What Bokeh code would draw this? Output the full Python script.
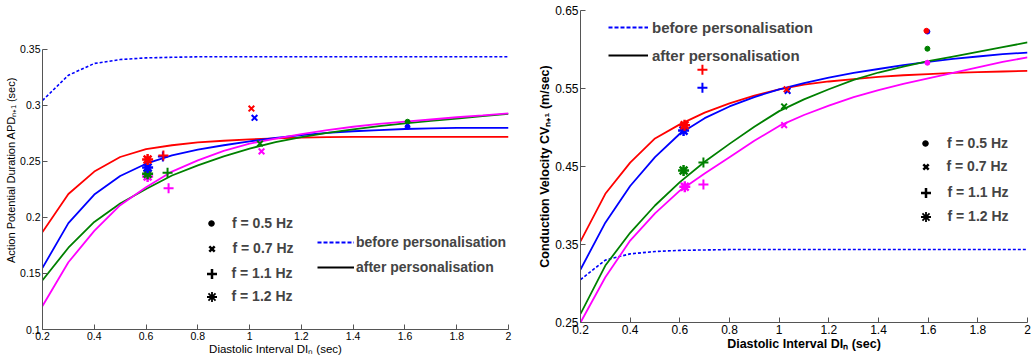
import math
from bokeh.plotting import figure
from bokeh.models import Range1d, FixedTicker, Legend, LegendItem
from bokeh.layouts import row, column
from bokeh.embed import file_html
from bokeh.resources import INLINE

nan = float("nan")

# ---------------- data ----------------
di = [0.2, 0.3, 0.4, 0.5, 0.6, 0.7, 0.8, 0.9, 1.0, 1.1, 1.2, 1.3, 1.4, 1.5, 1.6, 1.7, 1.8, 1.9, 2.0]

apd_before = [0.3045, 0.327, 0.3375, 0.341, 0.3425, 0.343, 0.3435, 0.3435, 0.3435, 0.3435,
              0.3435, 0.3435, 0.3435, 0.3435, 0.3435, 0.3435, 0.3435, 0.3435, 0.3435]
apd_red = [0.187, 0.221, 0.241, 0.254, 0.261, 0.2645, 0.267, 0.2685, 0.2698, 0.2707,
           0.2713, 0.2717, 0.272, 0.272, 0.272, 0.272, 0.272, 0.272, 0.272]
apd_blue = [0.155, 0.195, 0.2205, 0.237, 0.248, 0.2555, 0.2605, 0.2645, 0.268, 0.271,
            0.2735, 0.2755, 0.277, 0.278, 0.279, 0.2795, 0.28, 0.28, 0.28]
apd_green = [0.144, 0.173, 0.196, 0.2125, 0.2255, 0.2375, 0.2465, 0.2545, 0.2615, 0.2672,
             0.2718, 0.2755, 0.2787, 0.2815, 0.284, 0.2862, 0.2883, 0.2905, 0.2925]
apd_magenta = [0.121, 0.160, 0.188, 0.211, 0.227, 0.241, 0.251, 0.2595, 0.266, 0.2705,
               0.2745, 0.278, 0.281, 0.2835, 0.2855, 0.2875, 0.2895, 0.2912, 0.293]

cv_before = [0.305, 0.330, 0.338, 0.341, 0.3425, 0.343, 0.3435, 0.3435, 0.3435, 0.3435,
             0.3435, 0.3435, 0.3435, 0.3435, 0.3435, 0.3435, 0.3435, 0.3435, 0.3435]
cv_red = [0.354, 0.415, 0.455, 0.486, 0.504, 0.519, 0.531, 0.541, 0.549, 0.555,
          0.559, 0.562, 0.565, 0.567, 0.5685, 0.570, 0.571, 0.5718, 0.5725]
cv_blue = [0.318, 0.378, 0.425, 0.462, 0.492, 0.512, 0.527, 0.539, 0.549, 0.557,
           0.564, 0.570, 0.575, 0.580, 0.584, 0.588, 0.591, 0.594, 0.596]
cv_green = [0.261, 0.323, 0.365, 0.400, 0.430, 0.456, 0.479, 0.501, 0.521, 0.536,
            0.549, 0.561, 0.5705, 0.578, 0.585, 0.591, 0.597, 0.603, 0.609]
cv_magenta = [0.250, 0.308, 0.355, 0.390, 0.419, 0.441, 0.462, 0.483, 0.502, 0.516,
              0.528, 0.539, 0.548, 0.556, 0.563, 0.570, 0.577, 0.584, 0.590]

freq_labels = ["f = 0.5 Hz", "f = 0.7 Hz", "f = 1.1 Hz", "f = 1.2 Hz"]
line_labels = ["before personalisation", "after personalisation"]
series_names = ["red", "blue", "green", "magenta"]

# measured points, one value per frequency (0.5, 0.7, 1.1, 1.2 Hz); nan = not shown
apd_pts_di = {
    "red":     [nan, 1.007, 0.667, 0.606],
    "blue":    [1.61, 1.019, 0.665, 0.606],
    "green":   [1.61, 1.040, 0.683, 0.606],
    "magenta": [nan, 1.046, 0.687, 0.606],
}
apd_pts_val = {
    "red":     [nan, 0.2973, 0.2554, 0.2518],
    "blue":    [0.281, 0.289, 0.2545, 0.2446],
    "green":   [0.2855, 0.266, 0.240, 0.239],
    "magenta": [nan, 0.259, 0.226, 0.2366],
}
cv_pts_di = {
    "red":     [1.593, 1.030, 0.691, 0.619],
    "blue":    [1.597, 1.034, 0.691, 0.615],
    "green":   [1.597, 1.020, 0.695, 0.615],
    "magenta": [1.597, 1.020, 0.695, 0.620],
}
cv_pts_val = {
    "red":     [0.624, 0.549, 0.574, 0.503],
    "blue":    [0.623, 0.547, 0.551, 0.496],
    "green":   [0.601, 0.527, 0.455, 0.445],
    "magenta": [0.583, 0.503, 0.427, 0.424],
}

x_tick_labels = ["0.2", "0.4", "0.6", "0.8", "1", "1.2", "1.4", "1.6", "1.8", "2"]
apd_tick_labels = ["0.1", "0.15", "0.2", "0.25", "0.3", "0.35"]
cv_tick_labels = ["0.25", "0.35", "0.45", "0.55", "0.65"]

# ---------------- styles ----------------
FONT = "Liberation Sans"
COLORS = {"red": "#ff0000", "blue": "#0000ff", "green": "#008000", "magenta": "#ff00ff"}
MARKERS = ["circle", "x", "cross", "asterisk"]
MSIZE = [5, 8, 10, 11]
MLW = [1, 2, 2, 2.5]
LEG_G = [14, 19, 25, 25]          # legend glyph box per marker (marker size = 0.4 * box)
LEG_MLW = [1, 2.5, 2.5, 1.8]
LW = 1.8


def style_axes(p, xlabels, ylabels, xtitle, ytitle, tick_size, xtitle_size, ytitle_size,
               title_style):
    xt = [float(s) for s in xlabels]
    yt = [float(s) for s in ylabels]
    p.xaxis.ticker = FixedTicker(ticks=xt)
    p.yaxis.ticker = FixedTicker(ticks=yt)
    p.xaxis.major_label_overrides = {v: s for v, s in zip(xt, xlabels)}
    p.yaxis.major_label_overrides = {v: s for v, s in zip(yt, ylabels)}
    p.xaxis.axis_label = xtitle
    p.yaxis.axis_label = ytitle
    p.xaxis.bounds = (xt[0], xt[-1])
    p.yaxis.bounds = (yt[0], yt[-1])
    p.xaxis.axis_label_text_font_size = xtitle_size
    p.yaxis.axis_label_text_font_size = ytitle_size
    for ax in (p.xaxis, p.yaxis):
        ax.major_tick_in = 5
        ax.major_tick_out = 0
        ax.minor_tick_line_color = None
        ax.axis_line_color = "#555555"
        ax.major_tick_line_color = "#555555"
        ax.major_label_text_font = FONT
        ax.major_label_text_font_size = tick_size
        ax.major_label_text_color = "black"
        ax.major_label_standoff = 2
        ax.axis_label_text_font = FONT
        ax.axis_label_text_font_style = title_style
        ax.axis_label_text_color = "black"
        ax.axis_label_standoff = 0
    p.xgrid.grid_line_color = None
    p.ygrid.grid_line_color = None
    p.outline_line_color = None


def draw(p, before, curves, pts_di, pts_val):
    p.line(di, before, color="#0000ff", line_width=1.6, line_dash="3 2")
    for name, ys in zip(series_names, curves):
        p.line(di, ys, color=COLORS[name], line_width=LW)
    for k, (mk, ms, mlw) in enumerate(zip(MARKERS, MSIZE, MLW)):
        for name in series_names[::-1]:
            x = pts_di[name][k]
            y = pts_val[name][k]
            if math.isnan(x):
                continue
            p.scatter([x], [y], marker=mk, size=ms, line_color=COLORS[name],
                      fill_color=COLORS[name], line_width=mlw)


def add_marker_legend(p, frame_left, frame_bottom, cx, text_x, cys, font):
    """one single-item legend per frequency so each symbol gets its own size"""
    for lbl, mk, mlw, g, cy in zip(freq_labels, MARKERS, LEG_MLW, LEG_G, cys):
        r = p.scatter([nan], [nan], marker=mk, line_color="black", fill_color="black",
                      line_width=mlw)
        h = max(g, 20)
        leg = Legend(items=[LegendItem(label=lbl, renderers=[r])],
                     location=(cx - g / 2 - frame_left, frame_bottom - cy - h / 2),
                     border_line_color=None, background_fill_alpha=0, padding=0, margin=0,
                     glyph_width=g, glyph_height=g, label_height=20,
                     label_standoff=int(round(text_x - (cx + g / 2))),
                     label_text_font=FONT, label_text_font_style="bold",
                     label_text_font_size=font)
        p.add_layout(leg)


def add_line_legend(p, line_loc, line_font, line_glyph_w, line_standoff, line_spacing):
    r1 = p.line([nan, nan], [nan, nan], color="#0000ff", line_width=2, line_dash="4 2")
    r2 = p.line([nan, nan], [nan, nan], color="black", line_width=2)
    leg2 = Legend(items=[LegendItem(label=line_labels[0], renderers=[r1]),
                         LegendItem(label=line_labels[1], renderers=[r2])],
                  location=line_loc, border_line_color=None,
                  background_fill_alpha=0, padding=0, margin=0, spacing=line_spacing,
                  glyph_width=line_glyph_w, glyph_height=20, label_height=20,
                  label_standoff=line_standoff,
                  label_text_font=FONT, label_text_font_style="bold",
                  label_text_font_size=line_font)
    p.add_layout(leg2)


# ---------------- left: APD ----------------
p1 = figure(width=520, height=360, x_range=Range1d(0.2, 2.0), y_range=Range1d(0.1, 0.3848),
            output_backend="svg", toolbar_location=None,
            min_border_left=42, min_border_right=12, min_border_top=10, min_border_bottom=31)
style_axes(p1, x_tick_labels, apd_tick_labels,
           "Diastolic Interval DI\u2099 (sec)",
           "Action Potential Duration APD\u2099\u208a\u2081 (sec)",
           "10.5px", "11.5px", "11px", "normal")
draw(p1, apd_before, [apd_red, apd_blue, apd_green, apd_magenta], apd_pts_di, apd_pts_val)
add_marker_legend(p1, 42, 329, 211, 232, [223, 248, 273, 296], "14px")
add_line_legend(p1, (275, 52), "14px", 37, 2, 5)

# ---------------- right: CV ----------------
p2 = figure(width=513, height=360, x_range=Range1d(0.2, 2.0), y_range=Range1d(0.25, 0.65),
            output_backend="svg", toolbar_location=None,
            min_border_left=60, min_border_right=6, min_border_top=10, min_border_bottom=38)
style_axes(p2, x_tick_labels, cv_tick_labels,
           "Diastolic Interval DI\u2099 (sec)",
           "Conduction Velocity CV\u2099\u208a\u2081 (m/sec)",
           "12px", "12.5px", "12.5px", "bold")
draw(p2, cv_before, [cv_red, cv_blue, cv_green, cv_magenta], cv_pts_di, cv_pts_val)
add_marker_legend(p2, 580, 322, 925, 947, [143, 166, 192, 216], "14px")
add_line_legend(p2, (28, 257), "15px", 40, 4, 8)

layout = row(column(p1), column(p2))
open("out.html", "w").write(file_html(layout, INLINE))
